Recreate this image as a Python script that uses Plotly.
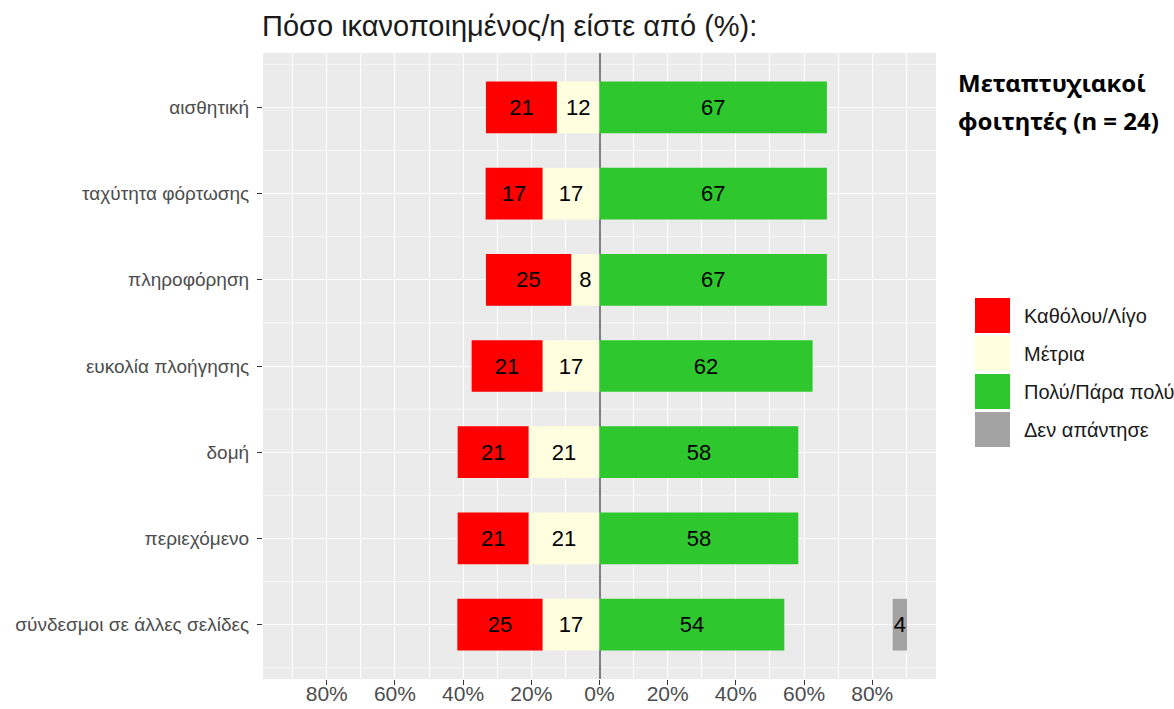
import plotly.graph_objects as go

# ---------------- data ----------------
categories = ["αισθητική", "ταχύτητα φόρτωσης", "πληροφόρηση", "ευκολία πλοήγησης",
              "δομή", "περιεχόμενο", "σύνδεσμοι σε άλλες σελίδες"]
low = [20.8, 16.7, 25.0, 20.8, 20.8, 20.8, 25.0]        # Καθόλου/Λίγο
mid = [12.5, 16.7, 8.3, 16.7, 20.8, 20.8, 16.7]         # Μέτρια
high = [66.7, 66.7, 66.7, 62.5, 58.3, 58.3, 54.2]       # Πολύ/Πάρα πολύ
no_answer = [0, 0, 0, 0, 0, 0, 4.2]                     # Δεν απάντησε
no_answer_start = 86

series_names = ["Καθόλου/Λίγο", "Μέτρια", "Πολύ/Πάρα πολύ", "Δεν απάντησε"]
colors = ["#FF0000", "#FFFFE0", "#2EC82E", "#A3A3A3"]
xtick_vals = [-80, -60, -40, -20, 0, 20, 40, 60, 80]
xtick_labels = ["80%", "60%", "40%", "20%", "0%", "20%", "40%", "60%", "80%"]
xminor_vals = [-90, -70, -50, -30, -10, 10, 30, 50, 70, 90]

title_text = "Πόσο ικανοποιημένος/η είστε από (%):"
side_lines = ["Μεταπτυχιακοί", "φοιτητές (n = 24)"]

# ---------------- layout geometry (pixels) ----------------
W, H = 1174, 709
PL, PR, PT, PB = 263, 936, 53, 679


def px_x(p):
    return (p - PL) / (PR - PL)


def px_y(p):
    return (PB - p) / (PB - PT)


FONT = "Liberation Sans, Arial, Helvetica, sans-serif"
bar_w = 0.6
txtfont = dict(family=FONT, size=22, color="black")


def labels(vals):
    return [str(round(v)) if v else "" for v in vals]


fig = go.Figure()
fig.add_trace(go.Bar(
    y=categories, x=[-m for m in mid], base=[0] * len(mid), orientation="h",
    name=series_names[1], marker=dict(color=colors[1], line=dict(width=0)),
    width=bar_w, text=labels(mid), textposition="inside",
    insidetextanchor="middle", constraintext="none", textfont=txtfont,
))
fig.add_trace(go.Bar(
    y=categories, x=[-l for l in low], base=[-m for m in mid], orientation="h",
    name=series_names[0], marker=dict(color=colors[0], line=dict(width=0)),
    width=bar_w, text=labels(low), textposition="inside",
    insidetextanchor="middle", constraintext="none", textfont=txtfont,
))
fig.add_trace(go.Bar(
    y=categories, x=high, base=[0] * len(high), orientation="h",
    name=series_names[2], marker=dict(color=colors[2], line=dict(width=0)),
    width=bar_w, text=labels(high), textposition="inside",
    insidetextanchor="middle", constraintext="none", textfont=txtfont,
))
na_cats = [c for c, v in zip(categories, no_answer) if v]
na_vals = [v for v in no_answer if v]
fig.add_trace(go.Bar(
    y=na_cats, x=na_vals, base=[no_answer_start] * len(na_vals), orientation="h",
    name=series_names[3], marker=dict(color=colors[3], line=dict(width=0)),
    width=bar_w, text=labels(na_vals), textposition="inside",
    insidetextanchor="middle", constraintext="none", textfont=txtfont,
))

shapes = []
# horizontal minor grid (between categories)
for i in range(-1, len(categories)):
    shapes.append(dict(type="line", xref="paper", x0=0, x1=1, yref="y",
                       y0=i + 0.5, y1=i + 0.5, line=dict(color="white", width=0.7),
                       layer="below"))

annotations = [
    dict(text=title_text, xref="paper", yref="paper", x=px_x(260), y=px_y(26),
         xanchor="left", yanchor="middle", showarrow=False,
         font=dict(family=FONT, size=29, color="#1A1A1A")),
]
for k, line in enumerate(side_lines):
    annotations.append(dict(text="<b>" + line + "</b>", xref="paper", yref="paper",
                            x=px_x(956), y=px_y(83 + 37 * k), xanchor="left",
                            yanchor="middle", showarrow=False,
                            font=dict(family="Noto Sans, Open Sans, sans-serif",
                                      size=24, color="black")))

# custom legend
for k, (nm, col) in enumerate(zip(series_names, colors)):
    top = 298 + 38 * k
    shapes.append(dict(type="rect", xref="paper", yref="paper",
                       x0=px_x(975), x1=px_x(1010), y0=px_y(top + 35), y1=px_y(top),
                       fillcolor=col, line=dict(width=0), layer="above"))
    annotations.append(dict(text=nm, xref="paper", yref="paper",
                            x=px_x(1022), y=px_y(top + 17.5), xanchor="left",
                            yanchor="middle", showarrow=False,
                            font=dict(family=FONT, size=20, color="#1A1A1A")))

fig.update_layout(
    width=W, height=H,
    margin=dict(l=PL, r=W - PR, t=PT, b=H - PB, pad=0, autoexpand=False),
    paper_bgcolor="white", plot_bgcolor="#EBEBEB",
    barmode="overlay", showlegend=False,
    shapes=shapes, annotations=annotations,
    xaxis=dict(range=[-98.7, 98.7], tickmode="array", tickvals=xtick_vals,
               ticktext=xtick_labels, showgrid=True, gridcolor="white", gridwidth=1.4,
               zeroline=True, zerolinecolor="#7F7F7F", zerolinewidth=1.6,
               ticks="outside", ticklen=5, tickwidth=1.4, tickcolor="#333333",
               tickfont=dict(family=FONT, size=21, color="#4D4D4D"),
               ticklabelstandoff=-9,
               minor=dict(tickvals=xminor_vals, showgrid=True, gridcolor="white",
                          gridwidth=0.7, ticks=""),
               showline=False, fixedrange=True, automargin=False),
    yaxis=dict(type="category", categoryorder="array", categoryarray=categories,
               range=[len(categories) - 1 + 0.63, -0.63],
               showgrid=True, gridcolor="white", gridwidth=1.4,
               ticks="outside", ticklen=5, tickwidth=1.4, tickcolor="#333333",
               tickfont=dict(family=FONT, size=19, color="#4D4D4D"),
               ticklabelstandoff=4,
               showline=False, fixedrange=True, automargin=False),
)

fig.write_html("out.html", post_script="document.body.style.margin='0';",
               config={"displayModeBar": False})
